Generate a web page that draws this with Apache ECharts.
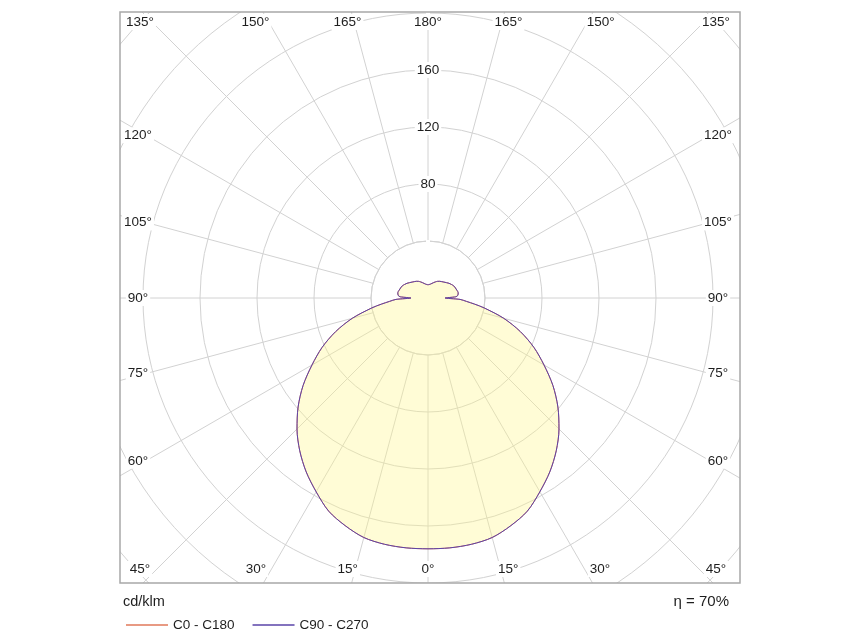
<!DOCTYPE html>
<html>
<head>
<meta charset="utf-8">
<script src="https://cdn.jsdelivr.net/npm/echarts@6/dist/echarts.min.js"></script>
<style>
  html, body { margin: 0; padding: 0; background: #fff; }
  #chart { width: 844px; height: 633px; }
</style>
</head>
<body>
<div id="chart"></div>
<script>
// gamma angles (0 = straight down) and luminous intensity in cd/klm
var gammaDeg = [0, 5, 10, 15, 20, 25, 30, 35, 40, 45, 50, 55, 60, 65, 70, 75, 80, 82.5, 85, 87.5,
  90, 92.5, 95, 100, 105, 110, 115, 120, 125, 130, 135, 140, 145, 150, 155, 160, 165, 170, 175, 180];
var planeC0C180 = [176, 176, 175.5, 174, 170, 165, 157, 149, 140, 130, 119, 107, 94, 82, 69, 55, 40, 33, 27, 22.5,
  12, 19.5, 21, 21.5, 21, 20.5, 20, 19, 18, 16.8, 15.8, 15, 14.3, 13.5, 12.5, 11.5, 10.6, 9.9, 9.5, 9.3];
var planeC90C270 = [176, 176, 175.5, 174, 170, 165, 157, 149, 140, 130, 119, 107, 94, 82, 69, 55, 40, 33, 27, 22.5,
  12, 19.5, 21, 21.5, 21, 20.5, 20, 19, 18, 16.8, 15.8, 15, 14.3, 13.5, 12.5, 11.5, 10.6, 9.9, 9.5, 9.3];
var seriesNames = ['C0 - C180', 'C90 - C270'];
var angleTicks = [0, 15, 30, 45, 60, 75, 90, 105, 120, 135, 150, 165, 180];
var radiusTicksShown = [80, 120, 160];
var efficiencyText = 'η = 70%';
var unitText = 'cd/klm';

// layout
var cx = 428, cy = 298;
var box = { left: 120, top: 12, right: 740, bottom: 583 };
var pxPerUnit = 1.425;
var rMax = 320;
var gridColor = '#d2d2d2';
var font = '"Liberation Sans", Arial, sans-serif';

// full loop -180..180 (one half on each side)
function toLoop(vals) {
  var out = [];
  for (var i = gammaDeg.length - 1; i >= 0; i--) out.push([vals[i], -gammaDeg[i]]);
  for (var j = 1; j < gammaDeg.length; j++) out.push([vals[j], gammaDeg[j]]);
  return out;
}

var myChart = echarts.init(document.getElementById('chart'));

// angle labels where the spokes meet the frame
function angleLabel(g, side) {
  var rad = g * Math.PI / 180;
  var dx = side * Math.sin(rad), dy = Math.cos(rad);
  var halfW = side < 0 ? cx - box.left : box.right - cx;
  var halfH = dy >= 0 ? box.bottom - cy : cy - box.top;
  var tx = Math.abs(dx) > 1e-9 ? halfW / Math.abs(dx) : Infinity;
  var ty = Math.abs(dy) > 1e-9 ? halfH / Math.abs(dy) : Infinity;
  var x, y;
  if (ty <= tx) {
    x = cx + dx * ty + side * 15 * Math.sin(rad);
    x = Math.max(box.left + 20, Math.min(box.right - 24, x));
    y = dy >= 0 ? box.bottom - 14 : box.top + 10;
  } else {
    x = side < 0 ? box.left + 18 : box.right - 22;
    y = cy + (dy / Math.abs(dx)) * 282;
  }
  return {
    type: 'text', x: x, y: y, z: 20,
    style: {
      text: g + '°', fill: '#1e1e1e', font: '13.5px ' + font,
      align: 'center', verticalAlign: 'middle',
      backgroundColor: '#fff', padding: [1, 2]
    }
  };
}

var graphics = [
  // inner disk: spokes start at the first ring
  { type: 'circle', z: 1, shape: { cx: cx, cy: cy, r: 40 * pxPerUnit },
    style: { fill: '#fff', stroke: gridColor, lineWidth: 1 } },
  // masks outside the frame
  { type: 'rect', z: 15, shape: { x: 0, y: 0, width: box.left, height: 633 }, style: { fill: '#fff' } },
  { type: 'rect', z: 15, shape: { x: box.right, y: 0, width: 844 - box.right, height: 633 }, style: { fill: '#fff' } },
  { type: 'rect', z: 15, shape: { x: 0, y: 0, width: 844, height: box.top }, style: { fill: '#fff' } },
  { type: 'rect', z: 15, shape: { x: 0, y: box.bottom, width: 844, height: 633 - box.bottom }, style: { fill: '#fff' } },
  { type: 'rect', z: 16, shape: { x: box.left, y: box.top, width: box.right - box.left, height: box.bottom - box.top },
    style: { fill: 'none', stroke: '#a8a8a8', lineWidth: 1.5 } },
  { type: 'text', z: 20, x: 123, y: 602,
    style: { text: unitText, fill: '#1e1e1e', font: '14.5px ' + font, verticalAlign: 'middle' } },
  { type: 'text', z: 20, x: 729, y: 602,
    style: { text: efficiencyText, fill: '#1e1e1e', font: '15px ' + font, align: 'right', verticalAlign: 'middle' } }
];
angleTicks.forEach(function (g) {
  graphics.push(angleLabel(g, -1));
  if (g !== 0 && g !== 180) graphics.push(angleLabel(g, 1));
});

var option = {
  animation: false,
  backgroundColor: '#fff',
  polar: { center: [cx, cy], radius: rMax * pxPerUnit },
  angleAxis: {
    type: 'value', min: -180, max: 180, interval: 15, startAngle: 90, clockwise: true, z: 0,
    axisLine: { show: false }, axisTick: { show: false }, axisLabel: { show: false },
    splitLine: { show: true, lineStyle: { color: gridColor, width: 1 } }
  },
  radiusAxis: {
    type: 'value', min: 0, max: rMax, interval: 40, z: 2,
    axisLine: { show: false }, axisTick: { show: false },
    axisLabel: {
      margin: 0, align: 'center', verticalAlign: 'middle', color: '#1e1e1e', fontSize: 13.5,
      fontFamily: font, backgroundColor: '#fff', padding: [1, 2],
      formatter: function (v) { return radiusTicksShown.indexOf(v) >= 0 ? String(v) : ''; }
    },
    splitLine: { show: true, lineStyle: { color: gridColor, width: 1 } }
  },
  legend: {
    data: seriesNames, left: 121, top: 613, z: 20, icon: 'rect', itemWidth: 42, itemHeight: 1.5, itemGap: 18,
    textStyle: { fontSize: 13.5, color: '#1e1e1e', fontFamily: font }
  },
  series: [
    {
      name: seriesNames[0], type: 'line', coordinateSystem: 'polar', data: toLoop(planeC0C180),
      symbol: 'none', smooth: 0.3, color: '#e0785a', lineStyle: { width: 1, color: '#e0785a' },
      areaStyle: { color: 'rgba(255,246,140,0.5)' }, z: 3
    },
    {
      name: seriesNames[1], type: 'line', coordinateSystem: 'polar', data: toLoop(planeC90C270),
      symbol: 'none', smooth: 0.3, color: '#5a44a8', lineStyle: { width: 1, color: '#5a44a8' }, z: 4
    }
  ],
  graphic: { elements: graphics }
};

myChart.setOption(option);
</script>
</body>
</html>
